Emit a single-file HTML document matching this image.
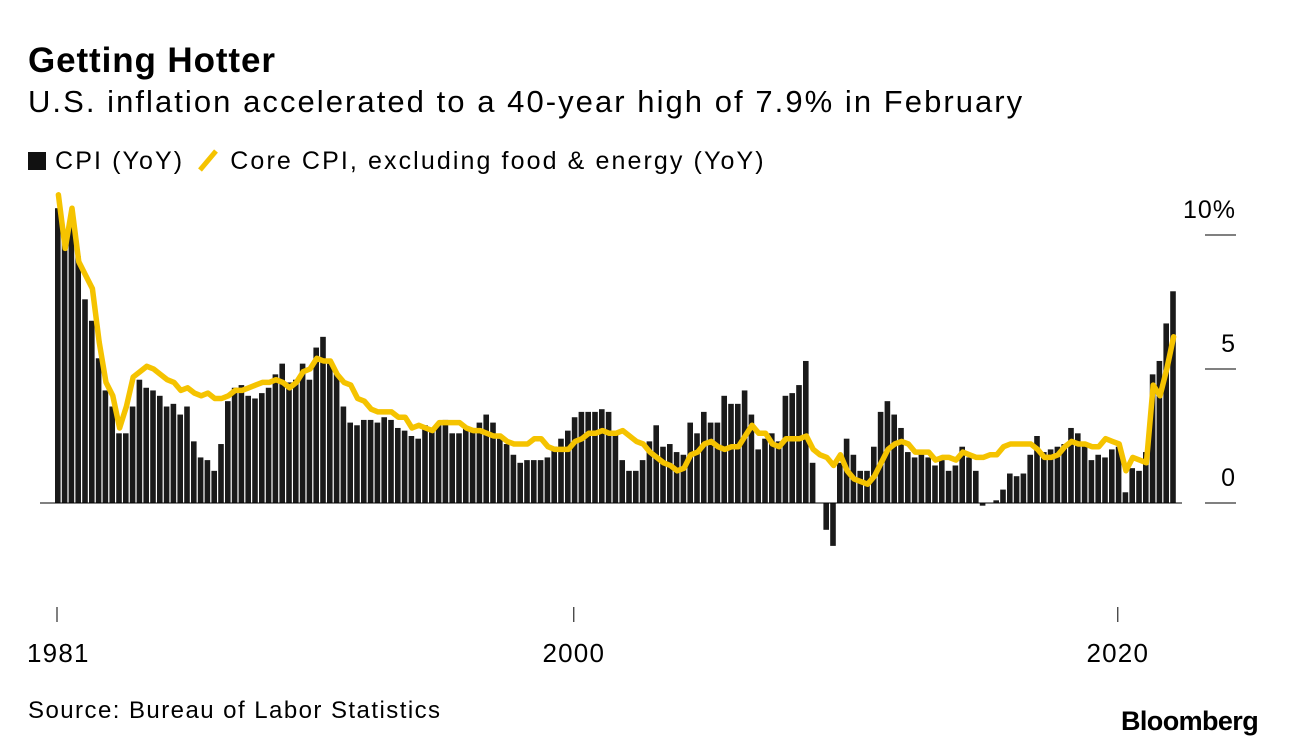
<!DOCTYPE html>
<html><head><meta charset="utf-8">
<style>
html,body{margin:0;padding:0;background:#fff;}
body{width:1289px;height:750px;overflow:hidden;font-family:"Liberation Sans",Arial,sans-serif;color:#000;position:relative;}
.t{position:absolute;white-space:nowrap;}
</style></head>
<body>
<div class="t" style="left:28px;top:41px;font-size:35px;font-weight:bold;letter-spacing:0.9px;">Getting Hotter</div>
<div class="t" style="left:28px;top:84px;font-size:31px;letter-spacing:2.05px;">U.S. inflation accelerated to a 40-year high of 7.9% in February</div>
<div class="t" style="left:28px;top:147px;font-size:25px;letter-spacing:2.1px;">
<span><span style="display:inline-block;width:18px;height:18px;background:#111;vertical-align:-1px;"></span> CPI (YoY)</span>
<span style="margin-left:4px;"><svg width="24" height="24" style="vertical-align:-3px"><line x1="3" y1="22" x2="19" y2="3" stroke="#f5c300" stroke-width="5"/></svg> Core CPI, excluding food &amp; energy (YoY)</span>
</div>
<svg id="chart" width="1289" height="750" style="position:absolute;left:0;top:0;"></svg>
<div class="t" style="left:28px;top:697px;font-size:24px;letter-spacing:1.45px;">Source: Bureau of Labor Statistics</div>
<div class="t" style="left:1121px;top:706px;font-size:27px;font-weight:bold;letter-spacing:-0.6px;">Bloomberg</div>
<script>
const startYear = 1981;
const cpi = [11.0,9.8,10.8,9.2, 7.6,6.8,5.4,4.2, 3.6,2.6,2.6,3.6, 4.6,4.3,4.2,4.0, 3.6,3.7,3.3,3.6, 2.3,1.7,1.6,1.2, 2.2,3.8,4.3,4.4, 4.0,3.9,4.1,4.3, 4.8,5.2,4.5,4.6, 5.2,4.6,5.8,6.2, 5.2,4.8,3.6,3.0, 2.9,3.1,3.1,3.0, 3.2,3.1,2.8,2.7, 2.5,2.4,2.9,2.7, 2.9,3.1,2.6,2.6, 2.8,2.8,3.0,3.3, 3.0,2.4,2.2,1.8, 1.5,1.6,1.6,1.6, 1.7,2.1,2.4,2.7, 3.2,3.4,3.4,3.4, 3.5,3.4,2.6,1.6, 1.2,1.2,1.6,2.3, 2.9,2.1,2.2,1.9, 1.8,3.0,2.6,3.4, 3.0,3.0,4.0,3.7, 3.7,4.2,3.3,2.0, 2.4,2.6,2.3,4.0, 4.1,4.4,5.3,1.5, 0.0,-1.0,-1.6,1.5, 2.4,1.8,1.2,1.2, 2.1,3.4,3.8,3.3, 2.8,1.9,1.7,1.9, 1.7,1.4,1.6,1.2, 1.4,2.1,1.7,1.2, -0.1,0.0,0.1,0.5, 1.1,1.0,1.1,1.8, 2.5,1.9,2.0,2.1, 2.2,2.8,2.6,2.2, 1.6,1.8,1.7,2.0, 2.1,0.4,1.3,1.2, 1.9,4.8,5.3,6.7, 7.9];
const core = [11.5,9.5,11.0,9.0, 8.5,8.0,6.0,4.5, 4.0,2.8,3.6,4.7, 4.9,5.1,5.0,4.8, 4.6,4.5,4.2,4.3, 4.1,4.0,4.1,3.9, 3.9,4.0,4.2,4.2, 4.3,4.4,4.5,4.5, 4.6,4.5,4.3,4.5, 4.9,5.0,5.4,5.3, 5.3,4.8,4.5,4.4, 3.9,3.8,3.5,3.4, 3.4,3.4,3.2,3.2, 2.8,2.9,2.8,2.7, 3.0,3.0,3.0,3.0, 2.8,2.7,2.7,2.6, 2.5,2.5,2.3,2.2, 2.2,2.2,2.4,2.4, 2.1,2.0,2.0,2.0, 2.3,2.4,2.6,2.6, 2.7,2.6,2.6,2.7, 2.5,2.3,2.2,1.9, 1.7,1.5,1.4,1.2, 1.3,1.8,1.9,2.2, 2.3,2.1,2.0,2.1, 2.1,2.5,2.9,2.6, 2.6,2.2,2.1,2.4, 2.4,2.4,2.5,2.0, 1.8,1.7,1.4,1.8, 1.2,0.9,0.8,0.7, 1.0,1.5,2.0,2.2, 2.3,2.2,1.9,1.9, 1.9,1.6,1.7,1.7, 1.6,1.9,1.8,1.7, 1.7,1.8,1.8,2.1, 2.2,2.2,2.2,2.2, 2.0,1.7,1.7,1.8, 2.1,2.3,2.2,2.2, 2.1,2.1,2.4,2.3, 2.2,1.2,1.7,1.6, 1.5,4.4,4.0,5.0, 6.2];
const yTicks = [0,5,10];
const yTickLabels = ["0","5","10%"];
const xTicks = [1981,2000,2020];

const NS = "http://www.w3.org/2000/svg";
const svg = document.getElementById('chart');
const pxPerYear = 27.2;
function xScale(t){ return 55 + (t - startYear) * pxPerYear; }
function yScale(v){ return 503 - v * 26.8; }
function mk(tag, attrs){ const e = document.createElementNS(NS, tag); for (const k in attrs) e.setAttribute(k, attrs[k]); svg.appendChild(e); return e; }

const bw = pxPerYear / 4;
cpi.forEach((v, i) => {
  const x = xScale(startYear + i / 4);
  const y0 = yScale(0), y1 = yScale(v);
  const r = mk('rect', {x: x, y: Math.min(y0, y1), width: bw - 1.2, height: Math.abs(y1 - y0), fill: '#1a1a1a'});
  
  
});
const zl = mk('line', {x1: 40, x2: 1182, y1: yScale(0), y2: yScale(0), stroke: '#000', 'stroke-width': 1});


const pts = core.map((v, i) => (xScale(startYear + i / 4) + bw / 2).toFixed(1) + ',' + yScale(v).toFixed(1)).join(' ');
const pl = mk('polyline', {points: pts, fill: 'none', stroke: '#f5c300', 'stroke-width': 5.5, 'stroke-linejoin': 'round', 'stroke-linecap': 'round'});


yTicks.forEach((v, i) => {
  const l = mk('line', {x1: 1205, x2: 1236, y1: yScale(v), y2: yScale(v), stroke: '#000', 'stroke-width': 1});
  
  
  const t = mk('text', {x: 1236, y: yScale(v) - 17, 'text-anchor': 'end', 'font-size': 25, 'letter-spacing': 1, 'font-family': 'Liberation Sans, sans-serif'});
  t.textContent = yTickLabels[i];
  
  
});
xTicks.forEach((yr, i) => {
  const x = xScale(yr) + 2;
  const l = mk('line', {x1: x, x2: x, y1: 607, y2: 622, stroke: '#000', 'stroke-width': 1});
  
  
  const t = mk('text', {x: i === 0 ? 27 : x, y: 662, 'text-anchor': i === 0 ? 'start' : 'middle', 'font-size': 26, 'letter-spacing': 1.2, 'font-family': 'Liberation Sans, sans-serif'});
  t.textContent = String(yr);
  
  
});
</script>
</body></html>
